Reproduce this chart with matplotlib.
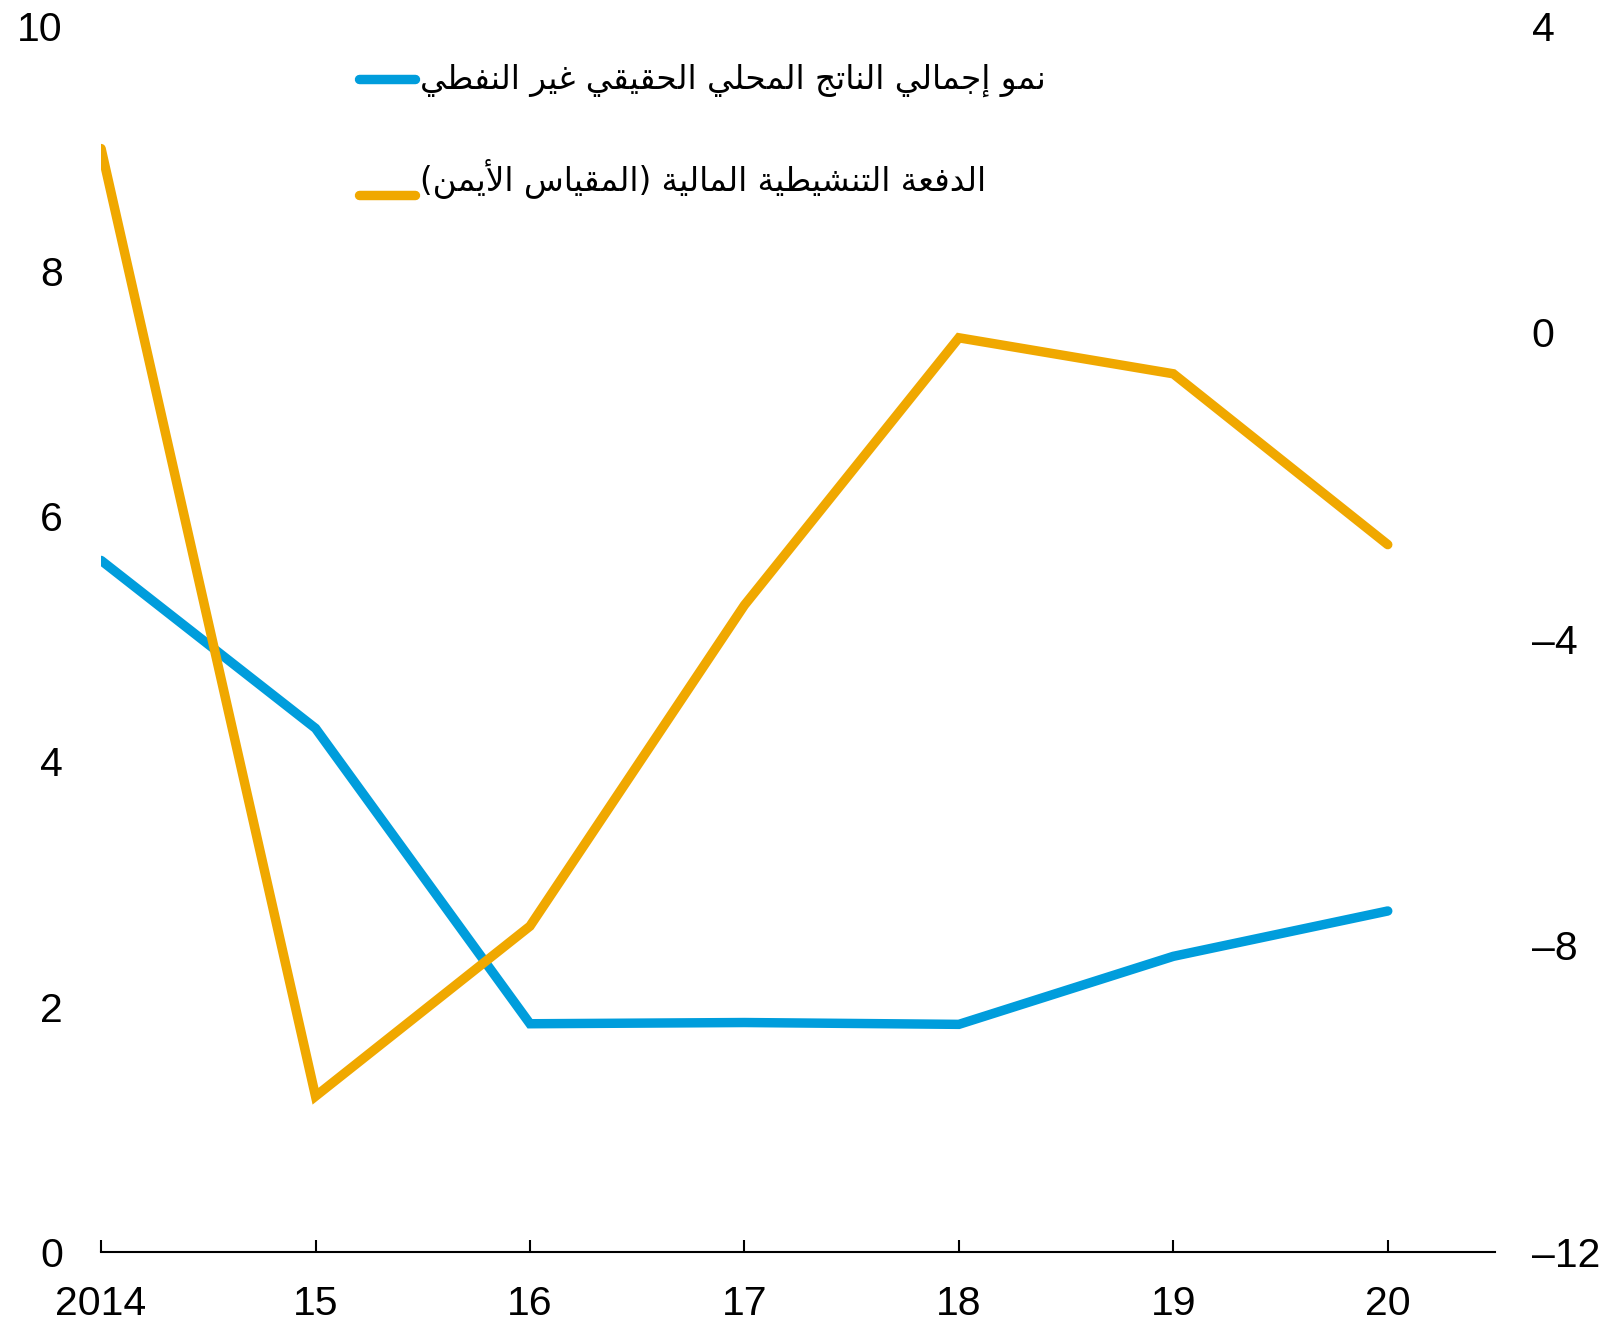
import matplotlib
matplotlib.use("Agg")
import matplotlib.pyplot as plt
from matplotlib.lines import Line2D

# ---------------- data ----------------
years = [2014, 2015, 2016, 2017, 2018, 2019, 2020]
year_labels = ["2014", "15", "16", "17", "18", "19", "20"]
gdp_growth = [5.64, 4.27, 1.86, 1.87, 1.855, 2.41, 2.78]          # left axis
fiscal_impulse = [2.4, -9.97, -7.75, -3.56, -0.07, -0.54, -2.77]   # right axis
label_gdp = "نمو إجمالي الناتج المحلي الحقيقي غير النفطي"
label_fiscal = "الدفعة التنشيطية المالية (المقياس الأيمن)"
left_ticks = [0, 2, 4, 6, 8, 10]
right_ticks = [-12, -8, -4, 0, 4]

# ---------------- minimal Arabic shaping ----------------
FORMS = {
    'ا': (0xFE8D, 0xFE8E, None, None),
    'أ': (0xFE83, 0xFE84, None, None),
    'إ': (0xFE87, 0xFE88, None, None),
    'ة': (0xFE93, 0xFE94, None, None),
    'ت': (0xFE95, 0xFE96, 0xFE97, 0xFE98),
    'ج': (0xFE9D, 0xFE9E, 0xFE9F, 0xFEA0),
    'ح': (0xFEA1, 0xFEA2, 0xFEA3, 0xFEA4),
    'د': (0xFEA9, 0xFEAA, None, None),
    'ر': (0xFEAD, 0xFEAE, None, None),
    'س': (0xFEB1, 0xFEB2, 0xFEB3, 0xFEB4),
    'ش': (0xFEB5, 0xFEB6, 0xFEB7, 0xFEB8),
    'ط': (0xFEC1, 0xFEC2, 0xFEC3, 0xFEC4),
    'ع': (0xFEC9, 0xFECA, 0xFECB, 0xFECC),
    'غ': (0xFECD, 0xFECE, 0xFECF, 0xFED0),
    'ف': (0xFED1, 0xFED2, 0xFED3, 0xFED4),
    'ق': (0xFED5, 0xFED6, 0xFED7, 0xFED8),
    'ل': (0xFEDD, 0xFEDE, 0xFEDF, 0xFEE0),
    'م': (0xFEE1, 0xFEE2, 0xFEE3, 0xFEE4),
    'ن': (0xFEE5, 0xFEE6, 0xFEE7, 0xFEE8),
    'و': (0xFEED, 0xFEEE, None, None),
    'ي': (0xFEF1, 0xFEF2, 0xFEF3, 0xFEF4),
}
LAM_ALEF = {'ا': (0xFEFB, 0xFEFC), 'أ': (0xFEF7, 0xFEF8), 'إ': (0xFEF9, 0xFEFA)}


def dual(c):
    return c in FORMS and FORMS[c][2] is not None


def shape(text):
    out = []
    i = 0
    n = len(text)
    while i < n:
        c = text[i]
        prev = text[i - 1] if i > 0 else ''
        prev_conn = dual(prev)
        if c == 'ل' and i + 1 < n and text[i + 1] in LAM_ALEF:
            iso, fin = LAM_ALEF[text[i + 1]]
            out.append(chr(fin if prev_conn else iso))
            i += 2
            continue
        if c in FORMS:
            f = FORMS[c]
            nxt = text[i + 1] if i + 1 < n else ''
            next_conn = dual(c) and nxt in FORMS
            if prev_conn and next_conn:
                g = f[3]
            elif prev_conn:
                g = f[1]
            elif next_conn:
                g = f[2]
            else:
                g = f[0]
            out.append(chr(g))
        else:
            out.append(c)
        i += 1
    vis = ''.join(reversed(out))
    vis = vis.translate(str.maketrans({'(': ')', ')': '('}))
    return vis


# ---------------- figure ----------------
BLUE = "#009ddc"
ORANGE = "#f0a800"
NUM_FONT = "Liberation Sans"
FS = 29.5
AR_FS = 23.5

fig = plt.figure(figsize=(16.07, 13.26), dpi=100)
ax = fig.add_axes([0.0629, 0.0560, 0.8674, 0.9244])
ax2 = ax.twinx()

ax.plot(years, gdp_growth, color=BLUE, lw=6.8, solid_capstyle="round",
        solid_joinstyle="miter", zorder=3)
ax2.plot(years, fiscal_impulse, color=ORANGE, lw=6.8, solid_capstyle="round",
         solid_joinstyle="miter", zorder=3)

ax.set_xlim(2014, 2020.5)
ax.set_ylim(0, 10)
ax2.set_ylim(-12, 4)

ax.set_xticks(years)
ax.set_xticklabels(year_labels)
ax.set_yticks(left_ticks)
ax.set_yticklabels([str(t) for t in left_ticks])
ax2.set_yticks(right_ticks)
ax2.set_yticklabels([("\u2013" + str(-t)) if t < 0 else str(t) for t in right_ticks])

for a in (ax, ax2):
    for s in ("top", "left", "right", "bottom"):
        a.spines[s].set_visible(False)
ax.spines["bottom"].set_visible(True)
ax.spines["bottom"].set_linewidth(1.5)

ax.tick_params(axis="x", direction="in", length=9, width=1.5, pad=24,
               labelsize=FS)
ax.tick_params(axis="y", length=0, pad=27.5, labelsize=FS)
ax2.tick_params(axis="y", length=0, pad=26.5, labelsize=FS)
for lab in ax.get_xticklabels() + ax.get_yticklabels() + ax2.get_yticklabels():
    lab.set_fontfamily(NUM_FONT)

# legend (handles + labels)
fig.add_artist(Line2D([0.2235, 0.2583], [0.9404, 0.9404], color=BLUE, lw=6.8,
                      solid_capstyle="round"))
fig.add_artist(Line2D([0.2235, 0.2583], [0.8530, 0.8530], color=ORANGE, lw=6.8,
                      solid_capstyle="round"))
fig.text(0.2614, 0.9395, shape(label_gdp), fontsize=AR_FS, family="DejaVu Sans",
         ha="left", va="center")
fig.text(0.2614, 0.8650, shape(label_fiscal), fontsize=AR_FS, family="DejaVu Sans",
         ha="left", va="center")

fig.savefig("out.png", dpi=100)
